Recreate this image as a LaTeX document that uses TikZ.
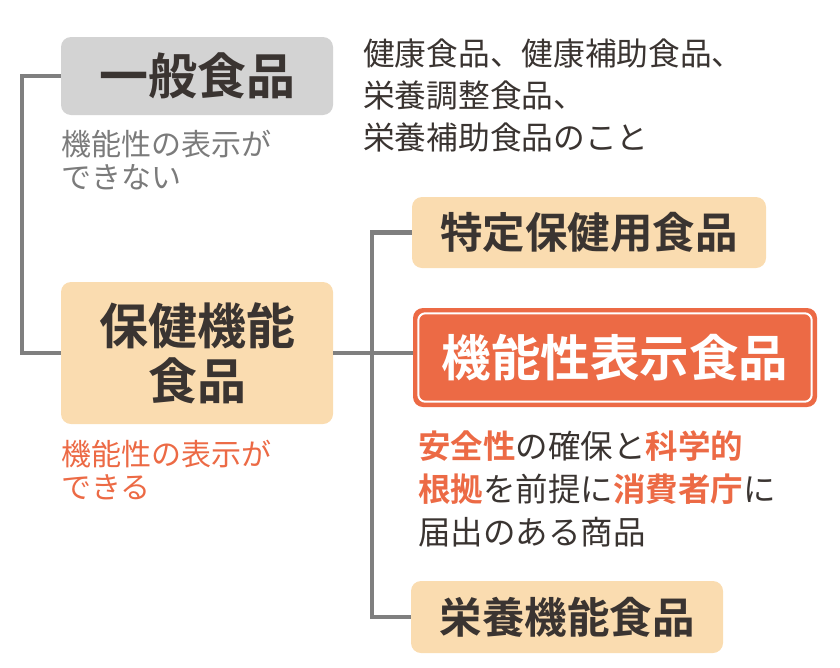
\documentclass[tikz,border=0pt]{standalone}
\usepackage{fontspec}
\usepackage{xcolor}
\usetikzlibrary{positioning, calc}
\newfontfamily\jp[BoldFont={Noto Sans CJK JP Bold}]{Noto Sans CJK JP}
\definecolor{ink}{HTML}{3A3431}
\definecolor{softgray}{HTML}{7B7B7B}
\definecolor{accent}{HTML}{EC6A45}
\definecolor{beige}{HTML}{FADCB0}
\definecolor{boxgray}{HTML}{D3D3D3}
\definecolor{linegray}{HTML}{7F7F7F}
\newcommand\hlword[1]{{\color{accent}\bfseries #1}}

\begin{document}
\begin{tikzpicture}[x=1pt, y=-1pt,
    box/.style={rectangle, rounded corners=10pt, inner sep=0pt, align=center, text=ink},
    link/.style={draw=linegray, line width=4.5pt},
    note/.style={anchor=north west, inner sep=0pt, align=left}]
                        \useasboundingbox (0,0) rectangle (840,667);

                        \node[box, fill=boxgray, minimum width=272pt, minimum height=78pt, font=\jp\bfseries\fontsize{49}{55}\selectfont] (general) at (197, 76) {一般食品};
                        \node[box, fill=beige, minimum width=272pt, minimum height=142pt, font=\jp\bfseries\fontsize{49}{55}\selectfont] (hoken) at (197, 353) {保健機能\\食品};
                        \node[box, fill=beige, minimum width=354pt, minimum height=71pt, font=\jp\bfseries\fontsize{42.5}{48}\selectfont] (tokutei) at (589, 232.5) {特定保健用食品};
                        \node[box, fill=accent, text=white, minimum width=404pt, minimum height=99pt, font=\jp\bfseries\fontsize{49.5}{55}\selectfont] (kinou) at (615, 357.5) {機能性表示食品};
                        \node[box, fill=beige, minimum width=312pt, minimum height=72pt, font=\jp\bfseries\fontsize{42.5}{48}\selectfont] (eiyou) at (567, 617) {栄養機能食品};
                        \draw[white, line width=2pt, rounded corners=7pt]
                        ([shift={(5.5,5.5)}]kinou.north west) rectangle ([shift={(-5.5,-5.5)}]kinou.south east);

                        \node[note, text=softgray, font=\jp\fontsize{30}{33}\selectfont] (nolabel) at (61, 130) {機能性の表示が\\できない};
                        \node[note, text=accent, font=\jp\fontsize{30}{33}\selectfont] (yeslabel) at (61, 440) {機能性の表示が\\できる};
                        \node[note, text=ink, font=\jp\fontsize{31.7}{42}\selectfont] (examples) at (363, 39) {健康食品、健康補助食品、\\栄養調整食品、\\栄養補助食品のこと};
                        \node[note, text=ink, font=\jp\fontsize{32.5}{43}\selectfont] (detail) at (418, 431) {\hlword{安全性}の確保と\hlword{科学的}\\\hlword{根拠}を前提に\hlword{消費者庁}に\\届出のある商品};

                        \coordinate (ltop) at (22, 76);
                        \coordinate (lbot) at (22, 353);
                        \coordinate (rtop) at (372, 232.5);
                        \coordinate (rbot) at (372, 617);

                        \draw[link]
                        (general.west) -- (ltop) -- (lbot) -- (hoken.west)
                        (tokutei.west) -- (rtop) -- (rbot) -- (eiyou.west)
                        (hoken.east) -- (hoken.east -| kinou.west);
                    \end{tikzpicture}
\end{document}
